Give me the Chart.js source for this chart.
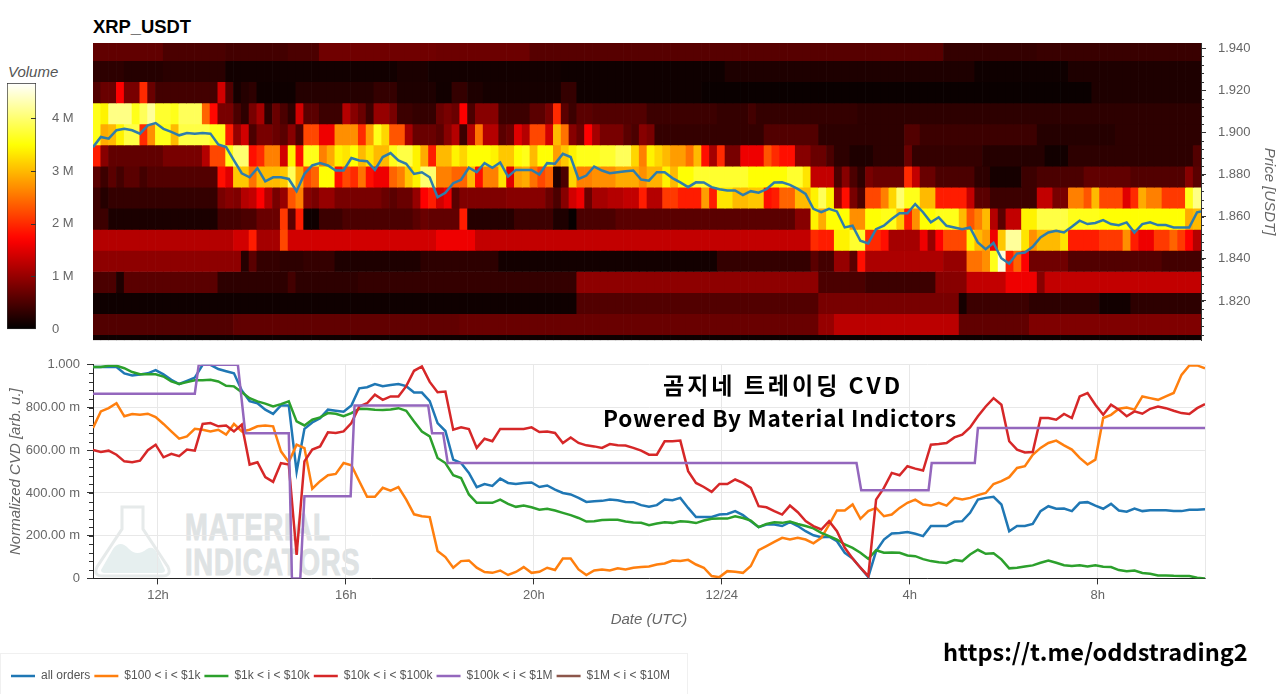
<!DOCTYPE html>
<html>
<head>
<meta charset="utf-8">
<title>XRP_USDT CVD</title>
<script src="https://cdn.jsdelivr.net/npm/chart.js@4/dist/chart.umd.min.js"></script>
<style>
  body { margin: 0; background: #fff; width: 1280px; height: 694px; overflow: hidden; position: relative; }
  canvas { position: absolute; left: 0; }
  .note { position: absolute; white-space: nowrap; color: #000; font-weight: 700; font-family: "Noto Sans CJK KR", "Noto Sans", sans-serif; line-height: 1; }
  .mark { position: absolute; white-space: nowrap; color: #dfe3e4; font: 700 36px "Liberation Sans", sans-serif; letter-spacing: 1px; line-height: 1; transform: scaleX(.76); transform-origin: left; -webkit-text-stroke: 1px #dfe3e4; }
  #chartTitle { position: absolute; left: 93px; top: 17px; font: 700 18.4px "Liberation Sans", sans-serif; line-height: 1.1; color: #000; }
  #barTitle { position: absolute; left: 8px; top: 64px; font: italic 15px "Liberation Sans", sans-serif; line-height: 1.1; color: #555; }
  #legendBox { position: absolute; left: 0; top: 653px; width: 686px; height: 40px; border: 1px solid #f0f0f0; }
</style>
</head>
<body>
<svg style="position:absolute;left:93px;top:505px" width="80" height="74" viewBox="0 0 80 74">
  <path d="M29 2 H50 V24 L75 62 Q79 71 69 71 H10 Q0 71 4 62 L29 24 Z" fill="#fff" stroke="#e6eaea" stroke-width="3"/>
  <path d="M8 65 L20 44 Q27 34 36 44 Q44 52 54 44 Q60 40 64 48 L72 65 Q72 68 68 68 H12 Q8 68 8 65 Z" fill="#e6efef"/>
</svg>
<div class="mark" style="left:185px;top:510px">MATERIAL</div>
<div class="mark" style="left:185px;top:545px">INDICATORS</div>
<div id="legendBox"></div>
<div id="chartTitle">XRP_USDT</div>
<div id="barTitle">Volume</div>

<canvas id="heatChart" width="1280" height="360" style="top:0"></canvas>
<canvas id="barChart" width="93" height="290" style="top:55px"></canvas>
<canvas id="cvdChart" width="1280" height="344" style="top:350px"></canvas>

<div class="note" style="left:663px;top:373px;font-size:23px;letter-spacing:3px">곰지네 트레이딩 CVD</div>
<div class="note" style="left:603px;top:406px;font-size:22.5px;letter-spacing:.8px">Powered By Material Indictors</div>
<div class="note" style="left:943px;top:640px;font-size:23.6px">https://t.me/oddstrading2</div>

<script>
// price bands of the heatmap, top to bottom
const priceEdges = [1.9424, 1.934, 1.924, 1.914, 1.904, 1.894, 1.884, 1.874, 1.864, 1.854, 1.844, 1.834, 1.824, 1.814, 1.804, 1.8014];
const priceTicks = [1.82, 1.84, 1.86, 1.88, 1.90, 1.92, 1.94];
const columnCount = 142;

// volume per band in millions, as pairs: column the run stops at, value
const band0 = [9,.65,17,.5,25,.45,29,.5,44,.75,56,.72,109,.58,121,.35,142,.38];
const band1 = [4,.3,9,.25,17,.28,39,.12,43,.18,60,.13,81,.1,113,.2,125,.1,142,.2];
const band2 = [1,.55,3,.7,4,1.7,6,.8,7,2.0,8,.7,16,.45,17,1.4,18,.55,19,.15,20,.25,21,.3,26,.1,36,.25,39,.35,44,.2,46,.12,48,.35,50,.2,60,.15,62,.35,78,.1,128,.07,142,.2];
const band3 = [1,3.6,2,3.4,5,4.1,6,3.6,7,3.9,8,4.2,10,3.7,11,3.6,14,3.9,15,2.4,16,1.75,18,.8,19,.5,20,.3,21,.8,22,1.1,23,.3,24,.7,25,.5,26,.3,27,1.4,29,.6,32,.4,33,1.2,34,.9,35,.7,36,.4,38,1.0,39,.8,41,.4,44,.35,45,.7,46,.8,47,.7,48,1.7,49,.5,52,.9,56,.4,58,.6,59,.8,60,2.0,61,.6,62,.4,64,.6,71,.55,80,.4,84,.35,85,.45,98,.35,142,.3];
const band4 = [1,3.6,2,2.9,3,3.0,4,3.4,6,3.8,7,2.0,8,2.7,10,3.6,11,3.0,15,3.8,17,3.6,18,1.9,19,1.0,20,1.4,21,.5,23,.8,24,.7,25,.6,26,.9,27,.5,29,2.2,31,1.6,34,2.7,35,2.0,36,2.8,37,3.6,38,3.2,40,2.3,41,1.1,44,.7,45,.6,46,.9,47,1.2,48,.4,49,1.2,50,2.5,52,1.2,53,.6,54,.7,55,1.5,56,1.2,58,2.2,59,1.4,60,3.0,61,2.5,62,.9,63,.7,64,1.7,65,1.1,68,.8,69,.6,70,.5,71,.9,72,.8,86,.35,93,.55,104,.3,106,.55,121,.4,131,.25,142,.3];
const band5 = [1,1.9,2,.9,9,.65,14,.8,15,1.2,17,2.2,18,3.6,20,4.0,21,1.8,22,2.0,24,2.6,25,1.4,26,3.4,27,1.8,29,3.6,30,2.6,31,2.9,32,3.4,33,3.3,34,3.5,35,3.0,36,3.3,38,3.0,39,3.6,41,3.8,42,3.4,43,2.9,44,1.9,46,3.0,47,3.4,48,3.2,51,3.5,52,3.4,54,3.1,55,3.5,56,3.6,57,3.0,59,3.5,60,2.8,61,3.1,62,3.4,65,3.6,67,3.7,69,3.9,70,3.2,71,2.6,72,3.4,73,3.2,74,3.0,76,2.8,77,2.5,78,3.0,79,1.8,80,1.1,81,2.0,83,.8,86,1.6,87,2.3,88,2.0,90,1.8,92,.9,94,.7,95,.5,97,.3,100,.2,104,.3,105,.7,107,.35,114,.35,122,.25,125,.12,141,.3,142,.55];
const band6 = [1,.6,2,.4,3,.6,4,.45,6,.6,7,.45,16,.55,17,1.8,18,1.5,20,3.1,21,2.5,24,3.0,25,3.1,26,3.9,27,2.9,28,2.2,29,2.4,31,3.5,32,1.8,33,2.2,34,2.0,35,2.5,36,1.8,38,1.6,39,2.4,40,2.6,41,3.1,42,3.4,44,4.0,46,2.6,48,2.4,49,3.0,50,1.8,52,2.6,53,3.3,54,1.5,55,2.8,56,2.9,57,2.5,58,2.2,59,2.4,60,.2,61,.5,62,3.2,64,2.6,67,2.7,70,2.9,71,2.7,73,2.95,74,3.4,75,3.0,77,3.5,84,3.7,89,3.5,91,3.7,92,3.3,95,1.3,96,.5,97,.9,98,.5,99,.3,100,.8,104,.7,105,2.0,106,1.3,108,.7,113,.5,115,.3,119,.15,121,.4,127,.5,133,.65,140,.55,141,.9,142,.6];
const band7 = [1,.4,2,.25,16,.35,17,.8,18,.9,19,.85,20,1.2,21,1.3,22,1.7,23,1.2,24,.8,25,1.0,26,2.3,27,2.6,28,.9,29,.8,31,1.0,37,.8,38,.7,39,.6,41,.7,42,1.0,43,1.7,44,1.9,45,1.4,46,1.6,47,.6,53,.85,58,.9,59,.7,60,.5,61,.9,62,1.4,63,1.6,64,.7,66,1.1,68,1.2,70,1.3,71,1.9,73,1.2,75,2.1,78,1.9,79,2.8,80,1.9,82,3.3,84,3.0,86,3.1,87,1.8,88,1.9,90,2.4,92,3.0,93,3.4,94,3.9,95,3.4,96,1.0,97,1.8,98,.8,99,.5,101,2.2,102,2.6,103,3.2,104,4.0,106,3.6,108,3.0,112,1.9,113,1.3,115,.6,121,.4,123,1.3,125,.8,127,2.6,128,2.3,129,3.0,132,2.2,133,1.5,134,2.0,135,2.9,137,2.6,140,2.1,141,3.6,142,4.1];
const band8 = [2,.4,16,.18,19,.45,21,.5,24,.7,25,2.1,26,.6,27,1.9,29,.1,32,.4,41,.5,42,.6,43,.7,47,.65,48,1.9,54,.25,59,.4,61,.2,62,.05,67,.5,90,.6,92,.9,93,3.4,94,2.9,97,3.5,99,2.7,101,3.5,103,3.6,104,3.1,105,1.9,106,2.7,108,3.5,111,3.6,112,3.0,113,2.3,114,2.6,115,3.0,116,1.2,117,.6,119,1.3,121,3.4,125,3.8,129,3.6,140,3.5,141,2.9,142,3.0];
const band9 = [18,1.2,20,1.4,21,1.9,24,1.1,25,2.2,44,1.4,49,1.6,92,1.3,93,2.0,95,1.9,97,3.4,99,3.7,101,2.0,102,1.8,106,1.1,107,1.6,108,1.0,109,1.7,112,2.2,113,3.4,114,3.0,115,2.8,116,1.6,117,3.1,119,4.2,120,3.3,121,2.7,124,3.0,125,3.3,129,1.9,132,2.1,133,2.7,134,1.9,136,1.6,138,2.1,139,2.4,140,2.1,141,1.7,142,1.2];
const band10 = [19,.95,20,.25,21,.6,24,.35,27,.3,31,.35,42,.2,52,.3,80,.13,92,.35,93,.6,95,.45,97,1.0,98,.6,99,1.8,109,1.15,112,1.0,114,2.5,115,2.7,116,3.6,117,4.5,118,1.9,119,2.4,120,1.7,125,.75,137,.55,142,.45];
const band11 = [3,.5,4,.2,16,.6,25,.3,26,.45,34,.3,62,.35,93,.95,99,.5,108,.4,112,.9,117,1.3,121,1.6,122,.9,142,1.3];
const band12 = [62,.1,93,.55,111,.8,112,.15,120,.4,129,.3,133,.12,142,.3];
const band13 = [18,.55,47,.65,93,.7,95,1.0,111,1.25,120,.65,142,.85];
const band14 = [142,.1];
const bands = [band0, band1, band2, band3, band4, band5, band6, band7, band8, band9, band10, band11, band12, band13, band14];

// price line, one value per 10 minute bin
const priceLine = [
  1.8930,1.8978,1.8970,1.9010,1.9017,1.9010,1.8994,1.9033,1.9044,1.9017,
  1.9002,1.8986,1.8997,1.8994,1.8997,1.8994,1.8943,1.8930,1.8867,1.8806,
  1.8787,1.8830,1.8768,1.8787,1.8787,1.8779,1.8721,1.8803,1.8843,1.8854,
  1.8843,1.8819,1.8819,1.8878,1.8867,1.8863,1.8822,1.8883,1.8902,1.8867,
  1.8851,1.8803,1.8811,1.8787,1.8692,1.8713,1.8759,1.8775,1.8832,1.8811,
  1.8854,1.8832,1.8857,1.8790,1.8822,1.8822,1.8822,1.8800,1.8854,1.8851,
  1.8898,1.8883,1.8779,1.8795,1.8838,1.8819,1.8806,1.8811,1.8816,1.8819,
  1.8776,1.8771,1.8811,1.8811,1.8783,1.8763,1.8740,1.8763,1.8762,1.8740,
  1.8730,1.8724,1.8724,1.8702,1.8721,1.8714,1.8730,1.8762,1.8763,1.8751,
  1.8732,1.8708,1.8637,1.8621,1.8637,1.8625,1.8549,1.8557,1.8486,1.8473,
  1.8541,1.8557,1.8589,1.8616,1.8616,1.8660,1.8621,1.8573,1.8597,1.8557,
  1.8549,1.8541,1.8549,1.8478,1.8446,1.8475,1.8403,1.8378,1.8425,1.8430,
  1.8457,1.8502,1.8525,1.8533,1.8525,1.8552,1.8581,1.8565,1.8570,1.8584,
  1.8565,1.8560,1.8573,1.8525,1.8565,1.8573,1.8560,1.8560,1.8549,1.8549,
  1.8549,1.8621,1.8629
];

// normalized CVD, one value per 10 minute bin
const allOrders = [
  .99,.99,.99,.99,.96,.95,.955,.96,.975,.955,
  .93,.91,.925,.94,1,1,.98,.97,.96,.88,
  .83,.82,.79,.77,.81,.81,.50,.70,.73,.75,
  .79,.785,.78,.81,.89,.895,.91,.90,.905,.91,
  .90,.87,.87,.83,.727,.69,.556,.54,.494,.427,
  .442,.433,.467,.447,.442,.447,.449,.428,.435,.416,
  .40,.393,.377,.358,.361,.363,.369,.366,.358,.357,
  .343,.335,.343,.369,.366,.377,.33,.287,.288,.288,
  .299,.302,.315,.296,.268,.24,.252,.252,.245,.263,
  .245,.221,.202,.193,.195,.174,.12,.093,.05,.006,
  .128,.182,.21,.213,.217,.209,.198,.245,.245,.245,
  .265,.268,.307,.369,.377,.382,.346,.221,.245,.245,
  .255,.315,.338,.326,.327,.315,.354,.357,.341,.326,
  .349,.318,.312,.327,.315,.319,.319,.319,.315,.315,
  .321,.321,.324
];
const orders100to1k = [
  .704,.782,.797,.82,.759,.77,.766,.771,.755,.723,
  .688,.654,.665,.70,.696,.688,.696,.673,.723,.688,
  .696,.712,.716,.712,.595,.545,.626,.61,.42,.455,
  .483,.489,.54,.53,.455,.382,.382,.424,.411,.427,
  .369,.30,.291,.287,.128,.10,.05,.081,.084,.05,
  .03,.026,.037,.016,.03,.053,.026,.031,.05,.039,
  .093,.093,.042,.016,.037,.042,.037,.047,.042,.05,
  .053,.056,.065,.07,.084,.081,.087,.065,.05,.011,
  .006,.034,.031,.026,.058,.132,.151,.171,.19,.182,
  .19,.182,.164,.19,.252,.318,.318,.346,.279,.315,
  .33,.291,.299,.33,.354,.369,.346,.341,.354,.341,
  .377,.369,.377,.39,.40,.442,.455,.474,.517,.525,
  .579,.611,.634,.645,.623,.603,.564,.533,.556,.751,
  .766,.794,.80,.79,.852,.844,.836,.852,.868,.953,
  .997,.997,.984
];
const orders1kto10k = [
  .99,.99,.995,.995,.984,.966,.956,.956,.956,.945,
  .922,.91,.919,.928,.928,.93,.922,.902,.899,.872,
  .844,.829,.818,.805,.816,.829,.735,.716,.743,.754,
  .774,.771,.759,.774,.794,.793,.79,.788,.791,.797,
  .785,.735,.688,.665,.564,.54,.483,.47,.393,.354,
  .354,.354,.369,.349,.335,.341,.333,.322,.326,.318,
  .307,.296,.283,.266,.268,.273,.274,.274,.266,.262,
  .26,.249,.257,.263,.26,.268,.265,.259,.271,.279,
  .28,.28,.291,.283,.271,.24,.255,.263,.26,.266,
  .255,.245,.234,.213,.198,.182,.159,.143,.12,.092,
  .132,.12,.121,.12,.107,.104,.09,.081,.076,.072,
  .086,.081,.112,.134,.115,.118,.089,.047,.05,.056,
  .061,.073,.084,.073,.062,.058,.062,.056,.062,.055,
  .053,.039,.034,.037,.025,.022,.014,.014,.012,.011,
  .011,.003,0
];
const orders10kto100k = [
  .601,.592,.598,.579,.548,.544,.551,.60,.626,.567,
  .583,.572,.603,.598,.723,.727,.712,.716,.688,.72,
  .533,.544,.474,.452,.54,.533,.11,.548,.603,.618,
  .684,.681,.688,.727,.805,.82,.86,.836,.852,.852,
  .90,.972,.992,.92,.872,.875,.696,.707,.699,.611,
  .654,.642,.70,.70,.699,.70,.707,.685,.688,.681,
  .634,.66,.634,.623,.618,.611,.629,.623,.622,.611,
  .598,.579,.579,.642,.642,.645,.502,.447,.428,.405,
  .442,.442,.463,.447,.424,.338,.333,.315,.299,.341,
  .31,.268,.245,.229,.268,.221,.143,.093,.05,.011,
  .369,.424,.494,.483,.525,.514,.505,.626,.629,.634,
  .66,.673,.707,.759,.805,.844,.813,.642,.603,.59,
  .592,.751,.751,.743,.77,.751,.852,.868,.813,.766,
  .813,.79,.759,.782,.771,.794,.805,.797,.785,.774,
  .77,.797,.816
];
// this one moves in steps, so it keeps its own bin positions
const orders100kto1mBins = [0,13,13.5,18.5,19.45,25,25.4,26.47,27,32.9,33.4,42.8,43.3,44.7,45.3,97.5,98.1,106.7,107.1,112.6,113,142];
const orders100kto1m = [.865,.865,1,1,.68,.68,0,0,.385,.385,.81,.81,.68,.68,.54,.54,.413,.413,.54,.54,.704,.704];
const orders1mto10m = [];

const seriesNames = ["all orders", "$100 < i < $1k", "$1k < i < $10k", "$10k < i < $100k", "$100k < i < $1M", "$1M < i < $10M"];
const seriesColors = ["#1f77b4", "#ff7f0e", "#2ca02c", "#d62728", "#9467bd", "#8c564b"];

const timeTickBins = [8.3, 32.3, 56.3, 80.3, 104.3, 128.3];
const timeTickLabels = ["12h", "16h", "20h", "12/24", "4h", "8h"];
const cvdTicks = [0, .2, .4, .6, .8, 1];
const cvdTickLabels = ["0", "200.00 m", "400.00 m", "600.00 m", "800.00 m", "1.000"];
const volumeTicks = [0, 1, 2, 3, 4];
const volumeTickLabels = ["0", "1 M", "2 M", "3 M", "4 M"];
const volumeMax = 4.67;

const labelFont = { family: "'Liberation Sans', sans-serif", size: 13 };
const titleFont = { family: "'Liberation Sans', sans-serif", size: 15, style: "italic", weight: "normal" };
const gray = "#666";
const tickDark = "#333";

function hot(v) {
  const t = Math.min(1, v / volumeMax);
  const r = Math.min(1, t / .365);
  const g = Math.max(0, Math.min(1, (t - .365) / .381));
  const b = Math.max(0, (t - .746) / .254);
  return "rgb(" + Math.round(r * 255) + "," + Math.round(g * 255) + "," + Math.round(b * 255) + ")";
}

function expandBand(runs) {
  const out = [];
  for (let j = 0; j < runs.length; j += 2) {
    while (out.length < runs[j]) out.push(runs[j + 1]);
  }
  return out;
}

function toPoints(values) {
  return values.map((v, i) => ({ x: i, y: v }));
}

// small marks along an edge of the plot, which the library has no option for
function edgeMarks(sets) {
  return {
    id: "edgeMarks",
    afterDraw(chart) {
      const ctx = chart.ctx;
      const area = chart.chartArea;
      ctx.save();
      ctx.strokeStyle = tickDark;
      ctx.lineWidth = 1;
      sets.forEach(s => {
        const edge = s.side === "left" ? area.left : area.right;
        const dir = s.side === "left" ? -1 : 1;
        s.values.forEach(v => {
          const y = Math.round(chart.scales.y.getPixelForValue(v)) + .5;
          ctx.beginPath();
          ctx.moveTo(edge + dir * s.outer, y);
          ctx.lineTo(edge - dir * s.inner, y);
          ctx.stroke();
        });
      });
      ctx.restore();
    }
  };
}

// faint closing line on the right of the lower plot
const rightEdge = {
  id: "rightEdge",
  beforeDatasetsDraw(chart) {
    const ctx = chart.ctx;
    const area = chart.chartArea;
    ctx.save();
    ctx.strokeStyle = "#e8e8e8";
    ctx.beginPath();
    ctx.moveTo(area.right + .5, area.top);
    ctx.lineTo(area.right + .5, area.bottom);
    ctx.stroke();
    ctx.restore();
  }
};

const priceMinor = [];
for (let p = 1.804; p < 1.942; p += .004) priceMinor.push(p);
const cvdMinor = [];
for (let v = 0; v < 1; v += .04) cvdMinor.push(v);

const columns = Array.from({ length: columnCount }, (_, i) => i);
const heatSets = bands.map((runs, r) => {
  const colors = expandBand(runs).map(hot);
  return {
    type: "bar",
    data: columns.map(() => [priceEdges[r + 1], priceEdges[r]]),
    backgroundColor: colors,
    borderWidth: 0,
    barPercentage: 1,
    categoryPercentage: 1,
    grouped: false,
    xAxisID: "x",
    yAxisID: "y",
    order: 1
  };
});

new Chart(document.getElementById("heatChart"), {
  type: "bar",
  data: {
    labels: columns,
    datasets: heatSets.concat([{
      type: "line",
      data: toPoints(priceLine),
      borderColor: "#2f7dab",
      borderWidth: 2.5,
      pointRadius: 0,
      tension: 0,
      xAxisID: "xBins",
      yAxisID: "y",
      order: 0
    }])
  },
  options: {
    responsive: false,
    animation: false,
    layout: { autoPadding: false, padding: { left: 93, top: 43, bottom: 0 } },
    plugins: {
      legend: { display: false },
      tooltip: { enabled: false }
    },
    scales: {
      x: { display: false, offset: true },
      xBins: { type: "linear", display: false, offset: false, min: 0, max: 141.5 },
      y: {
        position: "right",
        min: priceEdges[priceEdges.length - 1],
        max: priceEdges[0],
        afterBuildTicks(scale) { scale.ticks = priceTicks.map(v => ({ value: v })); },
        afterFit(scale) { scale.width = 79; },
        border: { display: true, color: tickDark },
        grid: { drawOnChartArea: false, tickLength: 5, tickColor: tickDark },
        ticks: { color: gray, font: labelFont, padding: 12, callback: v => v.toFixed(3) },
        title: { display: true, text: "Price [USDT]", color: gray, font: titleFont, padding: { top: 2, bottom: 9 } }
      }
    }
  },
  plugins: [edgeMarks([{ side: "right", values: priceMinor, outer: 3, inner: 0 }])]
});

new Chart(document.getElementById("barChart"), {
  type: "bar",
  data: {
    labels: ["Volume"],
    datasets: [{
      data: [[0, volumeMax]],
      barPercentage: 1,
      categoryPercentage: 1,
      borderWidth: 1,
      borderColor: "#333",
      borderSkipped: false,
      backgroundColor(ctx) {
        const area = ctx.chart.chartArea;
        if (!area) return "#000";
        const grad = ctx.chart.ctx.createLinearGradient(0, area.bottom, 0, area.top);
        for (let k = 0; k <= 40; k++) grad.addColorStop(k / 40, hot(volumeMax * k / 40));
        return grad;
      }
    }]
  },
  options: {
    responsive: false,
    animation: false,
    layout: { autoPadding: false, padding: { left: 7, top: 28, bottom: 0 } },
    plugins: {
      legend: { display: false },
      tooltip: { enabled: false }
    },
    scales: {
      x: { display: false },
      y: {
        position: "right",
        min: 0,
        max: volumeMax,
        afterBuildTicks(scale) { scale.ticks = volumeTicks.map(v => ({ value: v })); },
        afterFit(scale) { scale.width = 57; },
        border: { display: false },
        grid: { display: false },
        ticks: { color: gray, font: labelFont, padding: 8, callback: (v, i) => volumeTickLabels[i] }
      }
    }
  },
  plugins: [edgeMarks([{ side: "right", values: [1, 2, 3, 4], outer: 0, inner: 5 }])]
});

const cvdValues = [allOrders, orders100to1k, orders1kto10k, orders10kto100k];
const cvdSets = cvdValues.map((values, s) => ({
  label: seriesNames[s],
  data: toPoints(values),
  borderColor: seriesColors[s],
  backgroundColor: seriesColors[s],
  borderWidth: 2.5,
  pointRadius: 0,
  tension: 0,
  order: 6 - s
}));
cvdSets.push({
  label: seriesNames[4],
  data: orders100kto1m.map((v, i) => ({ x: orders100kto1mBins[i], y: v })),
  borderColor: seriesColors[4],
  backgroundColor: seriesColors[4],
  borderWidth: 2.5,
  pointRadius: 0,
  tension: 0,
  order: 1
});
cvdSets.push({
  label: seriesNames[5],
  data: orders1mto10m,
  borderColor: seriesColors[5],
  backgroundColor: seriesColors[5],
  borderWidth: 2.5,
  pointRadius: 0,
  order: 0
});

new Chart(document.getElementById("cvdChart"), {
  type: "line",
  data: { datasets: cvdSets },
  options: {
    responsive: false,
    animation: false,
    layout: { autoPadding: false, padding: { left: 7, right: 75, top: 13, bottom: 2 } },
    plugins: {
      tooltip: { enabled: false },
      legend: {
        position: "bottom",
        align: "start",
        labels: {
          usePointStyle: true,
          pointStyle: "line",
          pointStyleWidth: 24,
          boxHeight: 12,
          padding: 4,
          color: "#555",
          font: { family: "'Liberation Sans', sans-serif", size: 12 },
          sort: (a, b) => a.datasetIndex - b.datasetIndex
        }
      }
    },
    scales: {
      x: {
        type: "linear",
        min: 0,
        max: 142,
        afterBuildTicks(scale) { scale.ticks = timeTickBins.map(v => ({ value: v })); },
        border: { display: true, color: "#222" },
        grid: { color: "#e8e8e8", tickColor: tickDark, tickLength: 6 },
        ticks: { color: gray, font: labelFont, maxRotation: 0, autoSkip: false, padding: 3, callback: (v, i) => timeTickLabels[i] },
        title: { display: true, text: "Date (UTC)", color: gray, font: titleFont, padding: { top: 5, bottom: 37 } }
      },
      y: {
        min: 0,
        max: 1,
        afterBuildTicks(scale) { scale.ticks = cvdTicks.map(v => ({ value: v })); },
        afterFit(scale) { scale.width = 86; },
        border: { display: true, color: "#222" },
        grid: { color: "#e8e8e8", tickColor: tickDark, tickLength: 6 },
        ticks: { color: gray, font: labelFont, padding: 7, callback: (v, i) => cvdTickLabels[i] },
        title: { display: true, text: "Normalized CVD [arb. u.]", color: gray, font: titleFont, padding: { top: 0, bottom: 0 } }
      }
    }
  },
  plugins: [edgeMarks([{ side: "left", values: cvdMinor, outer: 4, inner: 0 }]), rightEdge]
});
</script>
</body>
</html>
